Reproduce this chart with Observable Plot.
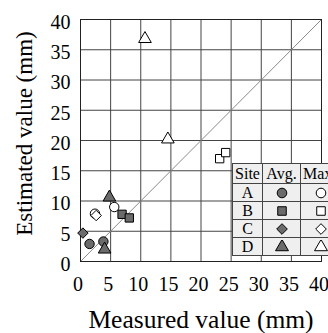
<!DOCTYPE html>
<html>
<head>
<meta charset="utf-8">
<script src="https://cdn.jsdelivr.net/npm/d3@7"></script>
<script src="https://cdn.jsdelivr.net/npm/@observablehq/plot@0.6"></script>
<style>
  html, body { margin: 0; padding: 0; background: white; }
  #wrap { position: relative; width: 328px; height: 333px; overflow: hidden; }
  #legend { position: absolute; left: 232px; top: 163px; border-collapse: collapse; table-layout: fixed;
    font-family: "Liberation Serif", "Times New Roman", serif; font-size: 16px; background: #efefef; }
  #legend td { border: 1px solid #444; padding: 0; text-align: center; line-height: 16px; white-space: nowrap; overflow: hidden;
    font-family: "Liberation Serif", "Times New Roman", serif; font-size: 16px; color: black; }
  #legend svg { display: block; margin: 0 auto; }
</style>
</head>
<body>
<div id="wrap"></div>
<script>
// ---- data ----
const siteNames = ["A", "B", "C", "D"];
const siteSymbols = ["circle", "square", "diamond2", "triangle"];
const headerLabels = ["Site", "Avg.", "Max."];

// Site A
const aAvgX = [1.5, 3.8];  const aAvgY = [2.9, 3.3];
const aMaxX = [2.4, 5.6];  const aMaxY = [7.9, 9.0];
// Site B
const bAvgX = [6.9, 8.1];  const bAvgY = [7.8, 7.2];
const bMaxX = [23.1, 24.1]; const bMaxY = [17.0, 18.0];
// Site C
const cAvgX = [0.4];       const cAvgY = [4.7];
const cMaxX = [2.6];       const cMaxY = [7.6];
// Site D
const dAvgX = [4.8, 4.0];  const dAvgY = [10.6, 2.0];
const dMaxX = [10.7, 14.5]; const dMaxY = [36.8, 20.2];

const axisTicks = [0, 5, 10, 15, 20, 25, 30, 35, 40];
const oneToOne = [0, 40];
const xTitle = "Measured value (mm)";
const yTitle = "Estimated value (mm)";

const groups = [
  ["A", "avg", aAvgX, aAvgY], ["A", "max", aMaxX, aMaxY],
  ["B", "avg", bAvgX, bAvgY], ["B", "max", bMaxX, bMaxY],
  ["C", "avg", cAvgX, cAvgY], ["C", "max", cMaxX, cMaxY],
  ["D", "avg", dAvgX, dAvgY], ["D", "max", dMaxX, dMaxY]
];
const points = [];
for (const [site, kind, xs, ys] of groups) xs.forEach((x, i) => points.push({site, kind, x, y: ys[i]}));

const serif = "Liberation Serif";
const avgFill = "#6b6b6b";
const symFor = s => siteSymbols[siteNames.indexOf(s)];

const chart = Plot.plot({
  width: 328, height: 333,
  marginLeft: 80, marginRight: 7, marginTop: 19, marginBottom: 72,
  x: {domain: [0, 40], axis: null},
  y: {domain: [0, 40], axis: null},
  style: {fontFamily: serif, background: "white", color: "black"},
  marks: [
    Plot.gridX(axisTicks, {stroke: "#444", strokeOpacity: 1}),
    Plot.gridY(axisTicks, {stroke: "#444", strokeOpacity: 1}),
    Plot.line(oneToOne, {x: d => d, y: d => d, stroke: "#8a8a8a", strokeWidth: 1}),
    Plot.frame({stroke: "#222"}),
    // tick labels
    Plot.text(axisTicks, {x: d => d, text: d => String(d), frameAnchor: "bottom", textAnchor: "middle", lineAnchor: "top", dy: 15, dx: -2.5, fontSize: 20, fontFamily: serif, fill: "black"}),
    Plot.text(axisTicks, {y: d => d, text: d => String(d), frameAnchor: "left", textAnchor: "end", lineAnchor: "middle", dx: -10, dy: 3, fontSize: 20, fontFamily: serif, fill: "black"}),
    Plot.dot(points, {
      x: "x", y: "y",
      symbol: d => symFor(d.site),
      r: 4.7,
      fill: d => d.kind === "avg" ? avgFill : "white",
      stroke: "black", strokeWidth: 1
    }),
    Plot.text([xTitle], {text: d => d, frameAnchor: "bottom", textAnchor: "middle", lineAnchor: "middle", dy: 58, fontSize: 25.5, fontFamily: serif, fill: "black"}),
    Plot.text([yTitle], {text: d => d, frameAnchor: "left", textAnchor: "middle", lineAnchor: "middle", dx: -56, dy: -7, rotate: -90, fontSize: 23, fontFamily: serif, fill: "black"})
  ]
});
const wrap = document.getElementById("wrap");
wrap.appendChild(chart);

// ---- legend table ----
function symbolSvg(name, filled) {
  const size = 14;
  const map = {circle: d3.symbolCircle, square: d3.symbolSquare, diamond2: d3.symbolDiamond2, triangle: d3.symbolTriangle};
  const area = Math.PI * 4.8 * 4.8;
  const path = d3.symbol(map[name], area)();
  return `<svg width="${size}" height="${size}" viewBox="${-size/2} ${-size/2} ${size} ${size}"><path d="${path}" fill="${filled ? avgFill : "white"}" stroke="black" stroke-width="1"/></svg>`;
}
const colWidths = [30, 38, 40];
const table = document.createElement("table");
table.id = "legend";
table.style.width = d3.sum(colWidths) + "px";
let html = `<colgroup>${colWidths.map(w => `<col style="width:${w}px">`).join("")}</colgroup>`;
html += `<tr style="height:20px">${headerLabels.map((h, i) => `<td style="text-align:${i === 2 ? "left" : "center"}; padding-left:${i === 2 ? 2 : 0}px">${h}</td>`).join("")}</tr>`;
siteNames.forEach((s, i) => {
  html += `<tr style="height:18px"><td>${s}</td><td>${symbolSvg(siteSymbols[i], true)}</td><td>${symbolSvg(siteSymbols[i], false)}</td></tr>`;
});
table.innerHTML = html;
wrap.appendChild(table);
</script>
</body>
</html>
